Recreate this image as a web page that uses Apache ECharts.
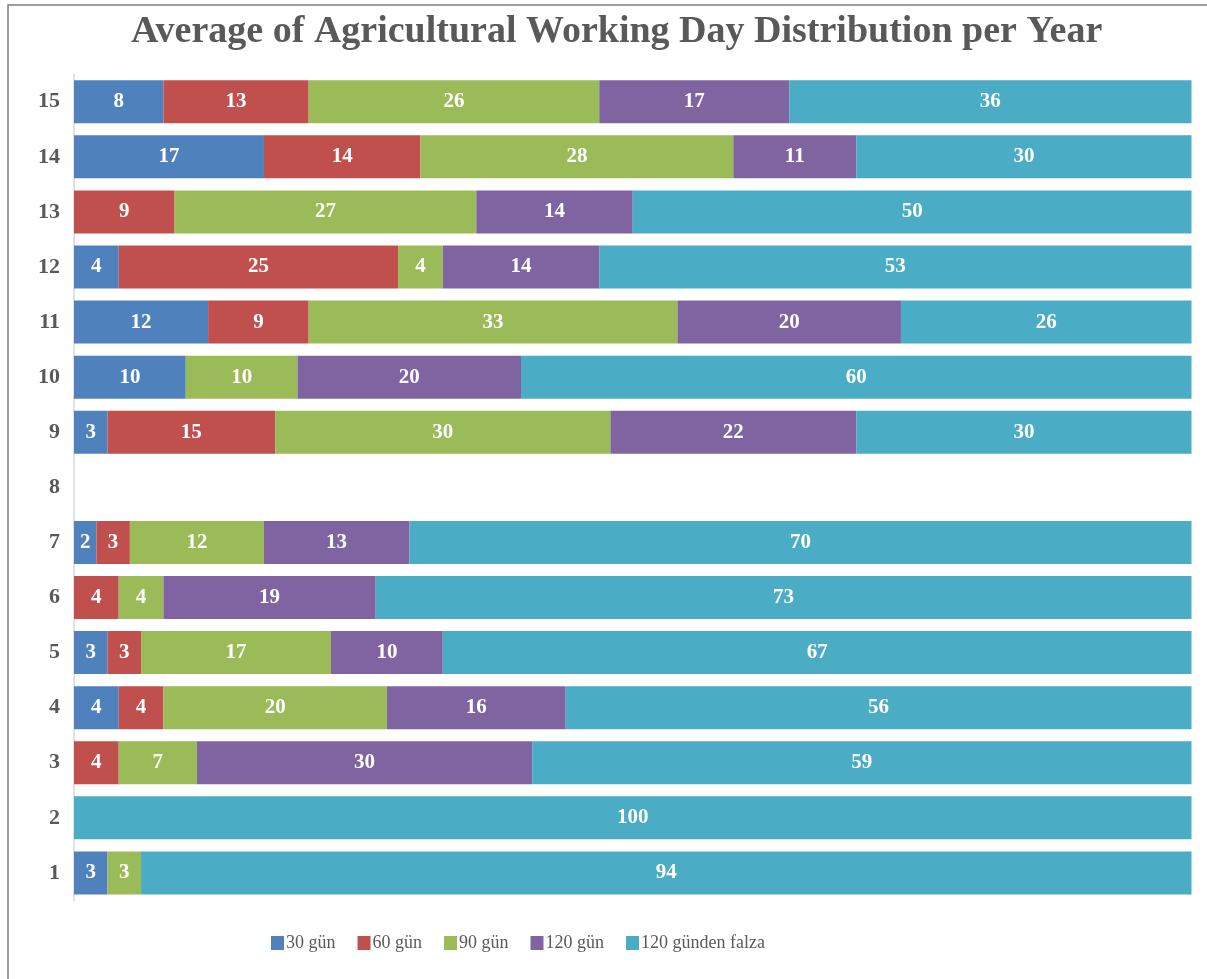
<!DOCTYPE html>
<html>
<head>
<meta charset="utf-8">
<script src="https://cdn.jsdelivr.net/npm/echarts@6/dist/echarts.min.js"></script>
<style>html,body{margin:0;padding:0;background:#fff}#c{width:1207px;height:979px}</style>
</head>
<body>
<div id="c"></div>
<script>
const categories = ['1','2','3','4','5','6','7','8','9','10','11','12','13','14','15'];
const seriesNames = ['30 gün','60 gün','90 gün','120 gün','120 günden falza'];
const d30  = [3, 0, 0, 4, 3, 0, 2, 0, 3, 10, 12, 4, 0, 17, 8];
const d60  = [0, 0, 4, 4, 3, 4, 3, 0, 15, 0, 9, 25, 9, 14, 13];
const d90  = [3, 0, 7, 20, 17, 4, 12, 0, 30, 10, 33, 4, 27, 28, 26];
const d120 = [0, 0, 30, 16, 10, 19, 13, 0, 22, 20, 20, 14, 14, 11, 17];
const dMore = [94, 100, 59, 56, 67, 73, 70, 0, 30, 60, 26, 53, 50, 30, 36];
const colors = ['#4F81BD','#C0504D','#9BBB59','#8064A2','#4BACC6'];
const allData = [d30, d60, d90, d120, dMore];

const serif = '"Liberation Serif","Times New Roman",serif';
const chart = echarts.init(document.getElementById('c'), null, {renderer:'canvas'});
chart.setOption({
  backgroundColor: '#fff',
  animation: false,
  color: colors,
  graphic: [{
    type: 'rect', silent: true,
    shape: {x: 8, y: 5, width: 1260, height: 1020},
    style: {fill: 'none', stroke: '#7f7f7f', lineWidth: 1.5}
  }],
  title: {
    text: 'Average of Agricultural Working Day Distribution per Year',
    left: 131, top: 13, padding: 0,
    textStyle: {fontFamily: serif, fontSize: 38, fontWeight: 'bold', color: '#595959'}
  },
  legend: {
    left: 271, top: 934, padding: 0,
    itemWidth: 13, itemHeight: 14, itemGap: 22,
    icon: 'rect',
    textStyle: {fontFamily: serif, fontSize: 18, color: '#595959', padding: [0,0,0,-3]},
    data: seriesNames
  },
  grid: {left: 74, right: 15.5, top: 74.2, bottom: 78.5, containLabel: false},
  xAxis: {
    type: 'value', min: 0, max: 100, show: false
  },
  yAxis: {
    type: 'category', data: categories,
    axisLine: {show: true, lineStyle: {color: '#d9d9d9', width: 1.5}},
    axisTick: {show: false},
    axisLabel: {fontFamily: serif, fontSize: 22, fontWeight: 'bold', color: '#595959', margin: 14}
  },
  series: seriesNames.map((n, i) => ({
    name: n, type: 'bar', stack: 'total',
    barWidth: 43,
    data: allData[i],
    itemStyle: {color: colors[i]},
    label: {
      show: true, position: 'inside', color: '#fff',
      fontFamily: serif, fontSize: 21, fontWeight: 'bold',
      formatter: p => p.value ? String(p.value) : ''
    }
  }))
});
</script>
</body>
</html>
